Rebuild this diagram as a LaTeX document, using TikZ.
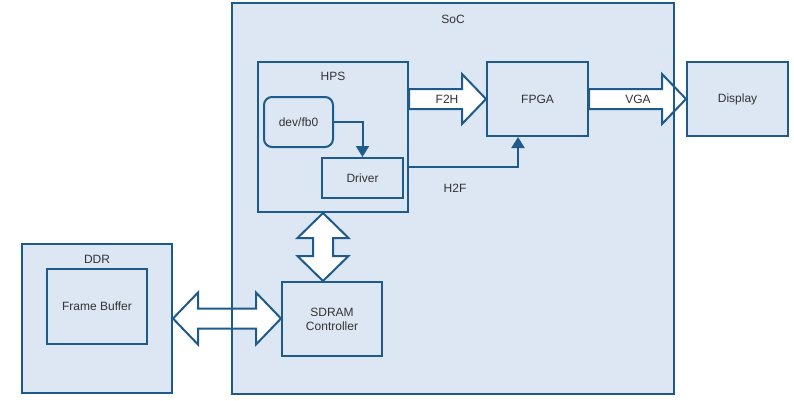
\documentclass[tikz,border=0pt]{standalone}
\usepackage{fontspec}
\setmainfont{Liberation Sans}
\usepackage{tikz}
\usetikzlibrary{arrows.meta, positioning, calc}
\definecolor{socline}{RGB}{30, 90, 140}
\definecolor{socfill}{RGB}{220, 231, 243}
\definecolor{socText}{RGB}{51, 51, 51}

% horizontal block arrow, #1 -> #2
\newcommand{\fatarrow}[2]{%
  \draw[blk] let \p1=(#1), \p2=(#2) in
    (\x1,\y1+10pt) -- (\x2-24pt,\y1+10pt) -- (\x2-24pt,\y1+25pt) -- (\x2,\y1)
    -- (\x2-24pt,\y1-25pt) -- (\x2-24pt,\y1-10pt) -- (\x1,\y1-10pt) -- cycle;}

\begin{document}
\begin{tikzpicture}[x=1pt, y=-1pt,
  box/.style={draw=socline, fill=socfill, line width=2pt, inner sep=0pt, font=\fontsize{12}{14}\selectfont, text=socText, align=center},
  lbl/.style={font=\fontsize{12}{14}\selectfont, text=socText},
  blk/.style={draw=socline, fill=white, line width=2pt, line join=miter},
  link/.style={draw=socline, line width=2pt, -{Triangle[width=13pt, length=11pt]}},
]
  \useasboundingbox (0,0) rectangle (794,400);

  % Outer boxes
  \node[box, draw=none, minimum width=440, minimum height=389] (soc) at (453,198.5) {};
  \node[box, minimum width=150, minimum height=149] (ddr) at (97,318.5) {};
  \node[box, minimum width=101, minimum height=74] (disp) at (737.5,99) {Display};

  % Inner boxes
  \node[box, minimum width=150, minimum height=150] (hps) at (333,137) {};
  \node[box, rounded corners=8pt, minimum width=69, minimum height=50] (fb) at (298.5,122) {dev/fb0};
  \node[box, minimum width=81, minimum height=40] (drv) at (362.5,178) {Driver};
  \node[box, minimum width=101, minimum height=74] (fpga) at (537.5,99) {FPGA};
  \node[box, minimum width=100, minimum height=74] (sdram) at (332,319) {SDRAM\\Controller};
  \node[box, minimum width=100, minimum height=75] (fbuf) at (97,306.5) {Frame Buffer};

  % Titles
  \node[lbl] at (453,19) {SoC};
  \node[lbl] at (333,76) {HPS};
  \node[lbl] at (97,259) {DDR};

  % Block arrows
  \fatarrow{hps.east |- fpga.west}{fpga.west}
  \fatarrow{fpga.east}{disp.west}
  \draw[blk] let \p1=(ddr.east), \p2=(sdram.west) in
    (\x1,\y1) -- (\x1+25pt,\y1+26pt) -- (\x1+25pt,\y1+10pt) -- (\x2-25pt,\y1+10pt)
    -- (\x2-25pt,\y1+26pt) -- (\x2,\y1) -- (\x2-25pt,\y1-26pt) -- (\x2-25pt,\y1-10pt)
    -- (\x1+25pt,\y1-10pt) -- (\x1+25pt,\y1-26pt) -- cycle;
  \draw[blk] let \p1=($(hps.south)+(-10,0)$), \p2=(sdram.north) in
    (\x1,\y1) -- (\x1+25.5pt,\y1-25pt) -- (\x1+10pt,\y1-25pt) -- (\x1+10pt,\y2+25pt)
    -- (\x1+25.5pt,\y2+25pt) -- (\x1,\y2) -- (\x1-25.5pt,\y2+25pt) -- (\x1-10pt,\y2+25pt)
    -- (\x1-10pt,\y1-25pt) -- (\x1-25.5pt,\y1-25pt) -- cycle;
  \draw[socline, line width=2pt] (soc.north west) rectangle (soc.south east);

  % Connections
  \draw[link] (fb.east) -| (drv.north);
  \draw[link] ($(hps.east)+(0,30)$) -| ($(fpga.south)+(-19.5,0)$);

  % Labels
  \node[lbl] at (447,99) {F2H};
  \node[lbl] at (638,99) {VGA};
  \node[lbl] at (455,188) {H2F};
\end{tikzpicture}
\end{document}
